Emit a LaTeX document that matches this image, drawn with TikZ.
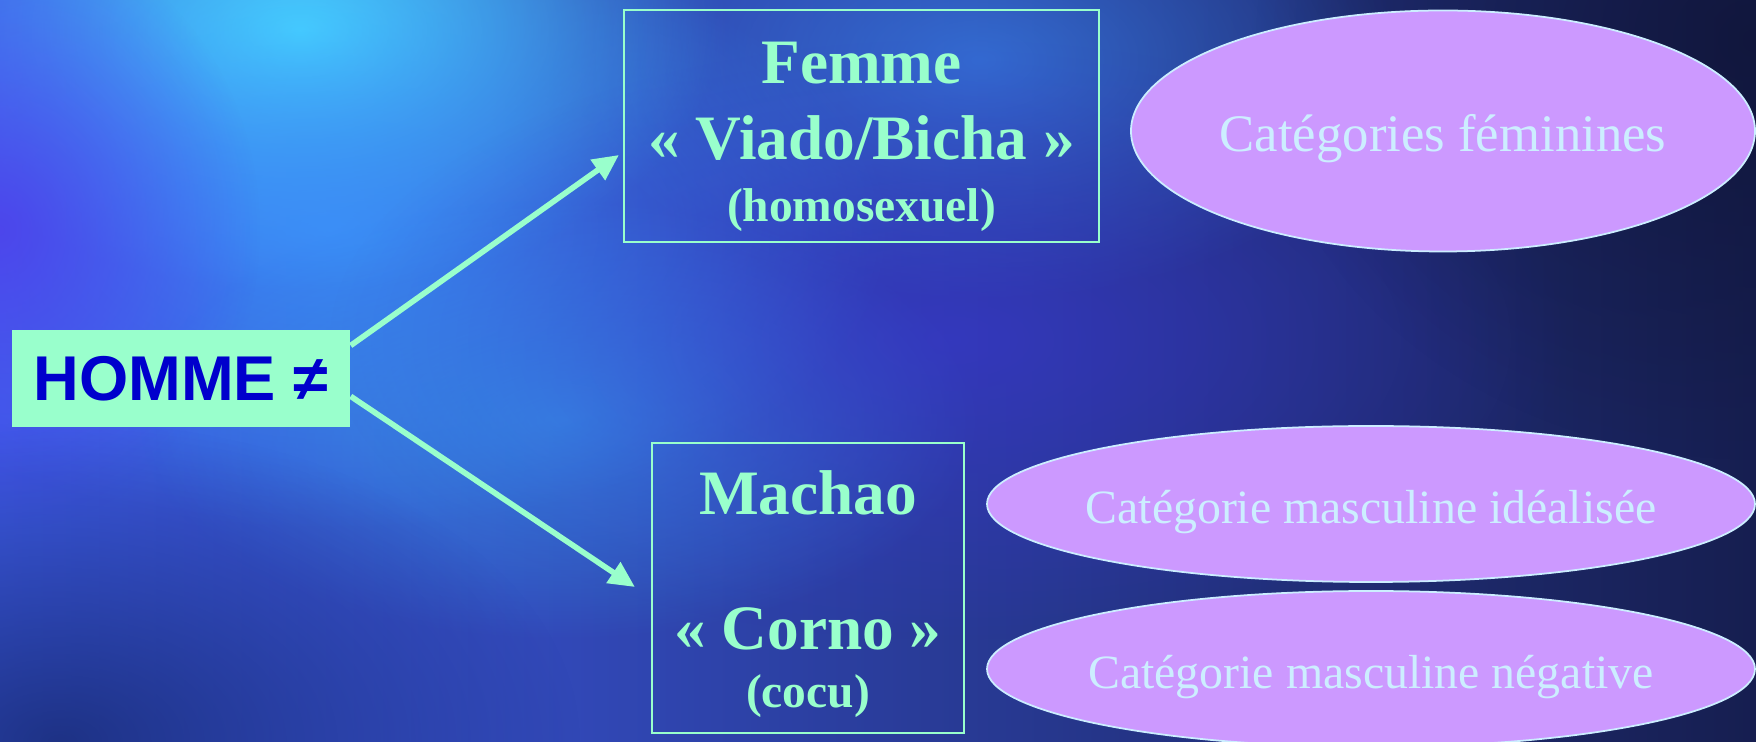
\documentclass[tikz,border=0pt]{standalone}
\usepackage{fontspec}
\setmainfont{Liberation Serif}
\newfontfamily\arialfont{Liberation Sans}
\usetikzlibrary{positioning,arrows.meta,calc,shapes.geometric,fadings}
\definecolor{mint}{RGB}{153,255,204}
\definecolor{lilac}{RGB}{204,153,255}
\definecolor{paleblue}{RGB}{204,238,255}
\definecolor{homblue}{RGB}{0,0,204}
\definecolor{bgleft}{RGB}{62,92,232}
\definecolor{bgmid}{RGB}{44,68,198}
\definecolor{bgright}{RGB}{22,30,80}
\tikzfading[name=glow, inner color=transparent!0, outer color=transparent!100]

\begin{document}
\begin{tikzpicture}[x=0.1mm, y=-0.1mm, >={Triangle[length=2.6mm, width=2.4mm]},
  catbox/.style={draw=mint, line width=0.6pt, align=center, text=mint, inner sep=0pt,
                 font=\bfseries\fontsize{18}{21.6}\selectfont},
  cat/.style={ellipse, draw=paleblue, line width=0.5pt, fill=lilac, text=paleblue,
              inner xsep=-3mm, inner ysep=0pt},
  arr/.style={->, draw=mint, line width=1.6pt},
  blob/.style={path fading=glow}]
% background
\useasboundingbox (0,0) rectangle (1756,742);
\shade[left color=bgleft, middle color=bgmid, right color=bgright] (0,0) rectangle (1756,742);
\fill[blob, color={rgb,255:red,72;green,220;blue,255}] (300,30) ellipse (420 and 260);
\fill[blob, color={rgb,255:red,60;green,150;blue,255}, fill opacity=.8] (330,230) ellipse (560 and 300);
\fill[blob, color={rgb,255:red,80;green,60;blue,235}, fill opacity=.8] (0,230) ellipse (260 and 300);
\fill[blob, color={rgb,255:red,55;green,170;blue,245}, fill opacity=.6] (560,420) ellipse (420 and 220);
\fill[blob, color={rgb,255:red,60;green,140;blue,250}, fill opacity=.6] (980,60) ellipse (420 and 240);
\fill[blob, color={rgb,255:red,22;green,40;blue,110}, fill opacity=.8] (60,742) ellipse (520 and 320);
\fill[blob, color={rgb,255:red,60;green,55;blue,215}, fill opacity=.6] (950,340) ellipse (620 and 300);
\fill[blob, color={rgb,255:red,14;green,18;blue,48}, fill opacity=.6] (1756,40) ellipse (500 and 420);
% boxes
\node[fill=mint, text=homblue, inner sep=0pt, minimum width=33.8mm, minimum height=9.7mm,
      font=\arialfont\bfseries\fontsize{18}{21.6}\selectfont] (homme) at (181,378.5) {HOMME ≠};
\node[catbox, minimum width=47.5mm, minimum height=23.2mm] (femme) at (861.5,126)
  {\rule{0pt}{18pt}Femme\\ « Viado/Bicha »\\[-3.7pt] {\fontsize{13.5}{16}\selectfont (homosexuel)}};
\node[catbox, minimum width=31.2mm, minimum height=29mm] (machao) at (808,588)
  {\rule{0pt}{16pt}Machao\\[16.7pt] « Corno »\\[-5.2pt] {\fontsize{13.5}{16}\selectfont (cocu)}};
% categories
\node[cat, minimum width=62.4mm, minimum height=24.1mm, font=\fontsize{15}{18}\selectfont]
  (fem) at (1443,131) {\rule{0pt}{15pt}Catégories féminines};
\node[cat, minimum width=76.8mm, minimum height=15.6mm, font=\fontsize{13.6}{16}\selectfont]
  (ideal) at (1371,504) {\rule{0pt}{14pt}Catégorie masculine idéalisée};
\node[cat, minimum width=76.8mm, minimum height=15.6mm, font=\fontsize{13.6}{16}\selectfont]
  (neg) at (1371,669) {\rule{0pt}{14pt}Catégorie masculine négative};
% arrows
\draw[arr] (homme.11) -- ($(femme.west)+(-4,29)$);
\draw[arr] (homme.-6) -- ($(machao.west)+(-16,-1)$);
\end{tikzpicture}
\end{document}
